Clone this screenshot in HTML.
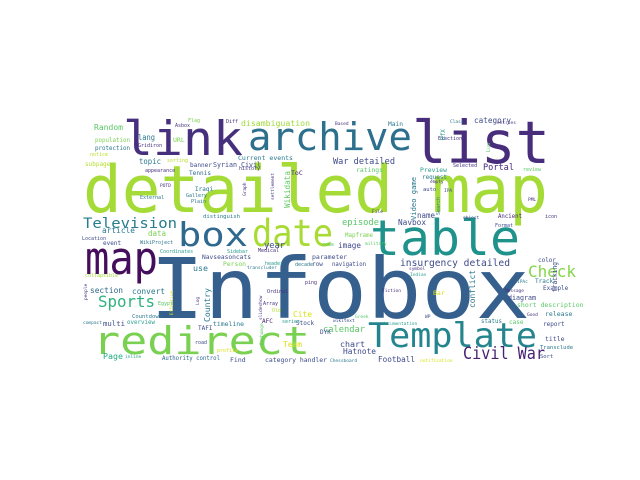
<!DOCTYPE html>
<html><head><meta charset="utf-8"><style>
html,body{margin:0;padding:0;background:#fff;width:640px;height:480px;overflow:hidden}
svg{display:block}
text{font-family:"DejaVu Sans Mono","Liberation Mono",monospace}
</style></head><body>
<svg id="cloud" width="640" height="480" viewBox="0 0 640 480" xmlns="http://www.w3.org/2000/svg">
<rect width="640" height="480" fill="#fff"/>
</svg>
<script>
// word, x, baseline y, font size, color, textLength (0 = natural), rotated
const words = [
["Infobox",150,318,84,"#355f8d",380,0],
["detailed map",83,212,65,"#a5db36",465,0],
["list",412,163,59,"#472d7b",138,0],
["link",123,155,47,"#46307e",120,0],
["archive",248,150,38,"#2d708e",164,0],
["table",370,255,49,"#20928c",150,0],
["map",85,274,45,"#450e5c",73,0],
["box",178,246,33,"#30698e",70,0],
["date",252,246,37,"#a8db34",81,0],
["redirect",93,354,38,"#7ad151",217,0],
["Template",368,347,34,"#25858e",169,0],
["Television",83,228,14,"#287d8e",94,0],
["Sports",98,307,16,"#2db27d",57,0],
["Check",528,277,16,"#86d549",48,0],
["Civil War",463,359,17,"#482173",82,0],
["insurgency detailed",400,266,9.5,"#3e4a89",110,0],
["War detailed",333,164,9,"#3e4a89",62,0],
["disambiguation",241,126,8.2,"#a0da39",69,0],
["Random",94,130,8,"#58c765",29,0],
["lang",138,140,8,"#2a788e",17,0],
["population",95,142,6,"#7ad151",35,0],
["protection",95,150,6,"#2a788e",35,0],
["notice",90,156,5,"#b5de2b",0,0],
["subpage",85,166,6,"#b5de2b",0,0],
["URL",173,142,6.5,"#7ad151",0,0],
["Asbox",175,127,5,"#46307e",0,0],
["Flag",188,122,5,"#7ad151",0,0],
["Diff",226,123,5,"#46307e",0,0],
["Gridiron",138,147,5,"#46307e",0,0],
["topic",139,164,7.5,"#2a788e",22,0],
["appearance",145,172,5,"#46307e",0,0],
["sorting",167,162,5,"#b5de2b",0,0],
["Current events",238,160,6.5,"#2a788e",55,0],
["banner",190,167,6,"#3e4a89",22,0],
["Syrian Civil",213,167,6.7,"#3e4a89",48,0],
["Tennis",189,175,6,"#31688e",22,0],
["Iraqi",195,191,6,"#2a788e",0,0],
["history",239,170,5,"#46307e",0,0],
["ToC",291,175,6.5,"#482878",0,0],
["POTD",160,187,4.5,"#46307e",0,0],
["External",140,199,5,"#2a788e",0,0],
["Gallery",186,197,5,"#2a788e",0,0],
["Plain",191,203,5,"#2a788e",0,0],
["distinguish",203,218,5.6,"#2a788e",37,0],
["article",102,233,8,"#2a788e",33,0],
["data",148,236,7.5,"#7ad151",18,0],
["Location",82,240,5,"#3e4a89",0,0],
["Main",388,126,6.2,"#2a788e",15,0],
["category",474,123,7.8,"#3e4a89",37,0],
["Election",438,140,5,"#46307e",0,0],
["Class",450,123,4.5,"#2a788e",0,0],
["entries",497,124,4.5,"#46307e",0,0],
["Based",335,125,4.5,"#46307e",0,0],
["ratings",356,172,6.5,"#58c765",27,0],
["Portal",483,170,8.5,"#482878",31,0],
["Preview",420,172,6.4,"#2a9d8f",27,0],
["request",422,179,6,"#2a788e",25,0],
["Selected",453,167,5,"#46307e",0,0],
["review",523,171,5,"#58c765",0,0],
["empty",430,183,4.5,"#46307e",0,0],
["auto",423,191,5.5,"#3e4a89",0,0],
["IPA",444,192,4.5,"#3e4a89",0,0],
["name",417,218,7.6,"#3e4a89",18,0],
["Ancient",498,218,6,"#482878",24,0],
["episode",342,225,8.8,"#58c765",37,0],
["Navbox",398,225,7.7,"#3e4a89",28,0],
["Mapframe",345,237,6,"#7ad151",28,0],
["Format",495,227,5,"#3e4a89",0,0],
["icon",545,218,5,"#46307e",0,0],
["object",463,219,4.5,"#3e4a89",0,0],
["File",372,213,4.5,"#46307e",0,0],
["PML",528,201,4.5,"#46307e",0,0],
["event",103,245,6,"#3e4a89",0,0],
["WikiProject",140,244,5,"#2a788e",0,0],
["Coordinates",160,253,5,"#2a9d8f",0,0],
["year",264,248,8.8,"#3e4a89",21,0],
["Navseasoncats",202,259,6.3,"#3e4a89",49,0],
["Sidebar",227,253,5,"#2a9d8f",0,0],
["Medical",258,252,5,"#46307e",0,0],
["use",193,271,8.3,"#2a788e",15,0],
["Person",223,266,6.4,"#7ad151",23,0],
["header",265,265,5,"#2a9d8f",0,0],
["transcluder",247,269,4.5,"#2a788e",0,0],
["decade",295,266,5,"#2a788e",0,0],
["collapsible",85,277,5,"#a0da39",33,0],
["section",90,293,7.9,"#31688e",33,0],
["convert",132,294,7.9,"#2a788e",33,0],
["Ordinal",267,293,5,"#46307e",0,0],
["ping",305,284,5,"#46307e",0,0],
["Cite",293,317,8,"#d8e219",19,0],
["Egypt",158,305,5,"#58c765",0,0],
["Countdown",132,318,5.6,"#2a788e",30,0],
["multi",103,326,7.2,"#3e4a89",22,0],
["overview",127,324,5.8,"#2a9d8f",28,0],
["compact",83,324,4.5,"#2a788e",0,0],
["timeline",213,326,6.4,"#2a788e",31,0],
["Array",263,305,5,"#46307e",0,0],
["Old",272,312,5,"#b5de2b",0,0],
["Stock",296,325,6,"#3e4a89",0,0],
["AFC",262,323,6,"#482878",0,0],
["series",282,323,5,"#2a9d8f",0,0],
["TAFI",198,330,6,"#3e4a89",0,0],
["road",195,344,5,"#3e4a89",0,0],
["Team",283,347,8,"#d8e219",19,0],
["profile",217,352,5,"#d8e219",0,0],
["Page",103,359,8.3,"#25ab82",20,0],
["inline",125,358,4.5,"#2a9d8f",0,0],
["Authority control",162,360,5.7,"#31688e",58,0],
["Find",230,362,6.5,"#3e4a89",0,0],
["category handler",265,362,6.3,"#3e4a89",62,0],
["image",338,248,7.8,"#3e4a89",23,0],
["military",365,245,4.5,"#58c765",0,0],
["code",322,246,5,"#58c765",0,0],
["parameter",312,259,6.5,"#3e4a89",0,0],
["navigation",332,266,5.7,"#3e4a89",34,0],
["row",312,266,6,"#3e4a89",0,0],
["color",538,262,6.2,"#3e4a89",18,0],
["symbol",409,270,4.5,"#46307e",0,0],
["Indian",410,276,4.5,"#2a9d8f",0,0],
["IPAc",517,283,4.5,"#2a788e",0,0],
["Track",535,283,6,"#2a788e",0,0],
["Fiction",382,292,4.5,"#46307e",0,0],
["Message",505,292,4.5,"#46307e",0,0],
["Bar",433,295,6.5,"#d8e219",0,0],
["Example",543,290,6,"#3e4a89",0,0],
["diagram",508,300,6.7,"#3e4a89",28,0],
["short description",517,307,6.5,"#58c765",0,0],
["release",545,316,6.5,"#2a788e",0,0],
["Greek",355,318,4.5,"#58c765",0,0],
["wikitext",333,322,4.5,"#3e4a89",0,0],
["documentation",382,325,4.5,"#2a9d8f",0,0],
["WP",425,318,4.5,"#3e4a89",0,0],
["status",481,323,5.8,"#2a788e",21,0],
["case",509,324,6,"#58c765",0,0],
["Good",527,316,4.5,"#46307e",0,0],
["calendar",323,332,8.7,"#58c765",42,0],
["report",543,326,6,"#3e4a89",0,0],
["chart",340,347,8.3,"#3e4a89",25,0],
["Hatnote",343,354,8,"#3e4a89",33,0],
["DYK",320,334,6,"#3e4a89",0,0],
["title",545,341,6.5,"#3e4a89",0,0],
["Transclude",540,349,5.5,"#2a788e",0,0],
["Sort",540,358,5.5,"#3e4a89",0,0],
["Football",378,362,7.6,"#3e4a89",37,0],
["notification",420,362,4.5,"#d8e219",0,0],
["Chessboard",330,362,4.5,"#2a788e",0,0],
["Wikidata",290,208,7.7,"#5ec962",37,1],
["Video game",416,220,7.2,"#2a788e",43,1],
["Country",210,322,7.9,"#2a788e",34,1],
["conflict",475,308,8,"#2a788e",38,1],
["tracking",557,292,7,"#3e4a89",30,1],
["Search",440,215,5,"#2a788e",0,1],
["Lua",490,152,5,"#58c765",0,1],
["RfX",445,140,6,"#2a9d8f",0,1],
["Graph",246,196,4.5,"#46307e",0,1],
["settlement",274,200,4.5,"#46307e",0,1],
["Effective",173,315,4.5,"#d8e219",0,1],
["Log",199,305,4.5,"#46307e",0,1],
["slideshow",262,320,4.5,"#46307e",0,1],
["Exchange",263,345,4.5,"#58c765",0,1],
["people",87,300,4.5,"#46307e",0,1]
];
const svg = document.getElementById('cloud');
const NS = 'http://www.w3.org/2000/svg';
words.forEach(w => {
  const t = document.createElementNS(NS, 'text');
  
  
  t.setAttribute('x', w[1]);
  t.setAttribute('y', w[2]);
  t.setAttribute('font-size', w[3]);
  t.setAttribute('fill', w[4]);
  if (w[5] > 0) {
    t.setAttribute('textLength', w[5]);
    t.setAttribute('lengthAdjust', 'spacingAndGlyphs');
  }
  if (w[6]) t.setAttribute('transform', 'rotate(-90 ' + w[1] + ' ' + w[2] + ')');
  t.textContent = w[0];
  svg.appendChild(t);
});
</script>
</body></html>
